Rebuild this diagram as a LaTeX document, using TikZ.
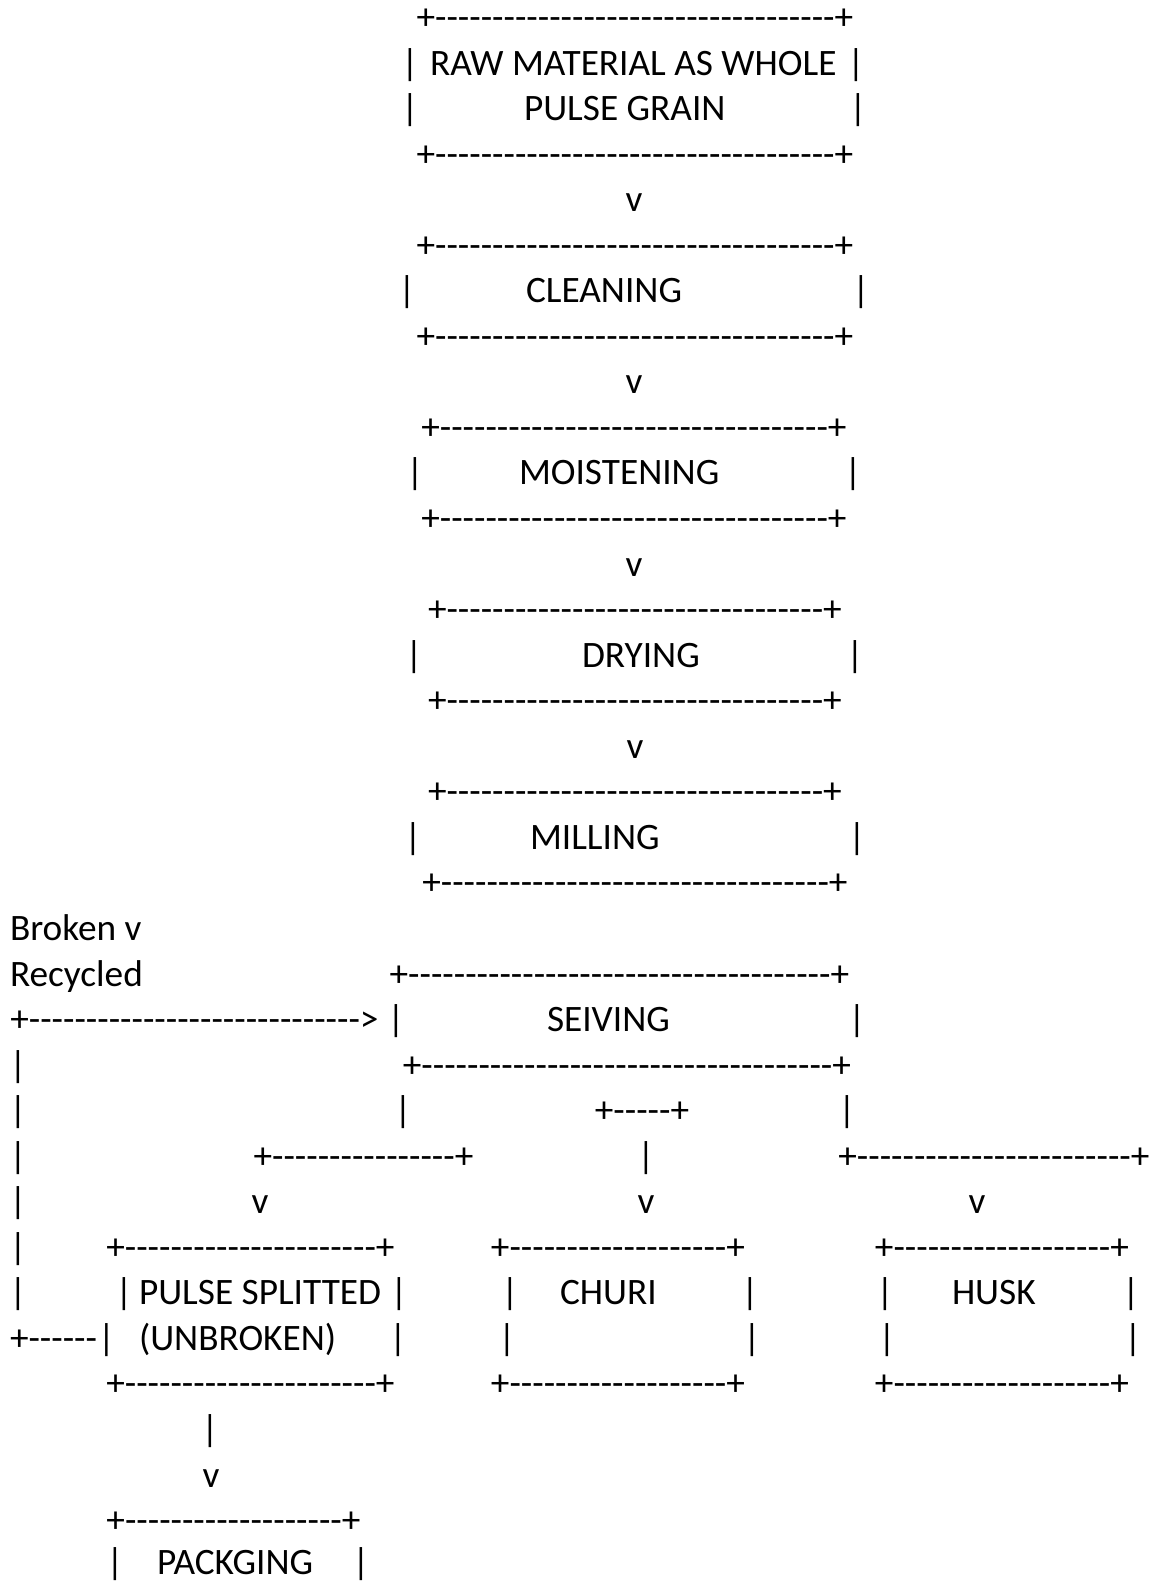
\documentclass[tikz,border=0pt]{standalone}
\usepackage{fontspec}
\newfontfamily\ascfont{Carlito}
\ExplSyntaxOn
\cs_new:Npn \hyph #1 { \prg_replicate:nn {#1} { -\kern0pt } }
\ExplSyntaxOff
\def\ly#1{-(45.55*#1-16.1)}
\tikzset{
  asc/.style={inner sep=0pt, outer sep=0pt, anchor=base west, font=\ascfont\fontsize{37.3}{45}\selectfont},
  ascc/.style={inner sep=0pt, outer sep=0pt, anchor=base, font=\ascfont\fontsize{37.3}{45}\selectfont}
}
\begin{document}
\begin{tikzpicture}[x=1pt,y=1pt]
\path[fill=white,use as bounding box] (0,0) rectangle (1149,-1583);
% RAW MATERIAL box
\node[ascc] (b1t) at (635,{\ly{1}}) {+\hyph{35}+};
\node[ascc] (b1l1) at (410,{\ly{2}}) {|};
\node[asc]  (b1a) at (430,{\ly{2}}) {RAW MATERIAL AS WHOLE};
\node[ascc] (b1r1) at (856,{\ly{2}}) {|};
\node[ascc] (b1l2) at (410,{\ly{3}}) {|};
\node[asc]  (b1b) at (524,{\ly{3}}) {PULSE GRAIN};
\node[ascc] (b1r2) at (858,{\ly{3}}) {|};
\node[ascc] (b1d) at (635,{\ly{4}}) {+\hyph{35}+};
\node[ascc] (v1) at (634,{\ly{5}}) {v};
% CLEANING
\node[ascc] (b2t) at (635,{\ly{6}}) {+\hyph{35}+};
\node[ascc] (b2l) at (407,{\ly{7}}) {|};
\node[asc]  (b2a) at (526,{\ly{7}}) {CLEANING};
\node[ascc] (b2r) at (861,{\ly{7}}) {|};
\node[ascc] (b2d) at (635,{\ly{8}}) {+\hyph{35}+};
\node[ascc] (v2) at (634,{\ly{9}}) {v};
% MOISTENING
\node[ascc] (b3t) at (634,{\ly{10}}) {+\hyph{34}+};
\node[ascc] (b3l) at (415,{\ly{11}}) {|};
\node[asc]  (b3a) at (519,{\ly{11}}) {MOISTENING};
\node[ascc] (b3r) at (853,{\ly{11}}) {|};
\node[ascc] (b3d) at (634,{\ly{12}}) {+\hyph{34}+};
\node[ascc] (v3) at (634,{\ly{13}}) {v};
% DRYING
\node[ascc] (b4t) at (635,{\ly{14}}) {+\hyph{33}+};
\node[ascc] (b4l) at (414,{\ly{15}}) {|};
\node[asc]  (b4a) at (582,{\ly{15}}) {DRYING};
\node[ascc] (b4r) at (855,{\ly{15}}) {|};
\node[ascc] (b4d) at (635,{\ly{16}}) {+\hyph{33}+};
\node[ascc] (v4) at (635,{\ly{17}}) {v};
% MILLING
\node[ascc] (b5t) at (635,{\ly{18}}) {+\hyph{33}+};
\node[ascc] (b5l) at (413,{\ly{19}}) {|};
\node[asc]  (b5a) at (530,{\ly{19}}) {MILLING};
\node[ascc] (b5r) at (857,{\ly{19}}) {|};
\node[ascc] (b5d) at (635,{\ly{20}}) {+\hyph{34}+};
% Broken / Recycled
\node[asc] (brk) at (10,{\ly{21}}) {Broken v};
\node[asc] (rec) at (10,{\ly{22}}) {Recycled};
% SEIVING
\node[ascc] (b6t) at (619.5,{\ly{22}}) {+\hyph{37}+};
\node[ascc] (arr) at (194.5,{\ly{23}}) {+\hyph{29}>};
\node[ascc] (b6l) at (396,{\ly{23}}) {|};
\node[asc]  (b6a) at (547,{\ly{23}}) {SEIVING};
\node[ascc] (b6r) at (857,{\ly{23}}) {|};
\node[ascc] (b6d) at (627,{\ly{24}}) {+\hyph{36}+};
% left return line
\node[ascc] (lr24) at (18,{\ly{24}}) {|};
\node[ascc] (lr25) at (18,{\ly{25}}) {|};
\node[ascc] (lr26) at (18,{\ly{26}}) {|};
\node[ascc] (lr27) at (18,{\ly{27}}) {|};
\node[ascc] (lr28) at (18,{\ly{28}}) {|};
\node[ascc] (lr29) at (18,{\ly{29}}) {|};
\node[asc]  (lr30) at (10,{\ly{30}}) {+\hyph{6}};
% branches
\node[ascc] (s25a) at (403,{\ly{25}}) {|};
\node[ascc] (s25b) at (642,{\ly{25}}) {+\hyph{5}+};
\node[ascc] (s25c) at (847,{\ly{25}}) {|};
\node[ascc] (s26a) at (363.5,{\ly{26}}) {+\hyph{16}+};
\node[ascc] (s26b) at (646,{\ly{26}}) {|};
\node[ascc] (s26c) at (994,{\ly{26}}) {+\hyph{24}+};
\node[ascc] (v27a) at (260,{\ly{27}}) {v};
\node[ascc] (v27b) at (646,{\ly{27}}) {v};
\node[ascc] (v27c) at (977,{\ly{27}}) {v};
% PULSE SPLITTED box
\node[ascc] (p1t) at (250.5,{\ly{28}}) {+\hyph{22}+};
\node[ascc] (p1l1) at (124,{\ly{29}}) {|};
\node[asc]  (p1a) at (139,{\ly{29}}) {PULSE SPLITTED};
\node[ascc] (p1r1) at (399,{\ly{29}}) {|};
\node[ascc] (p1l2) at (106.5,{\ly{30}}) {|};
\node[asc]  (p1b) at (139,{\ly{30}}) {(UNBROKEN)};
\node[ascc] (p1r2) at (398,{\ly{30}}) {|};
\node[ascc] (p1d) at (250.5,{\ly{31}}) {+\hyph{22}+};
% CHURI box
\node[ascc] (c1t) at (618,{\ly{28}}) {+\hyph{19}+};
\node[ascc] (c1l1) at (510,{\ly{29}}) {|};
\node[asc]  (c1a) at (560,{\ly{29}}) {CHURI};
\node[ascc] (c1r1) at (750,{\ly{29}}) {|};
\node[ascc] (c1l2) at (507,{\ly{30}}) {|};
\node[ascc] (c1r2) at (752,{\ly{30}}) {|};
\node[ascc] (c1d) at (618,{\ly{31}}) {+\hyph{19}+};
% HUSK box
\node[ascc] (h1t) at (1002,{\ly{28}}) {+\hyph{19}+};
\node[ascc] (h1l1) at (885,{\ly{29}}) {|};
\node[asc]  (h1a) at (952,{\ly{29}}) {HUSK};
\node[ascc] (h1r1) at (1131,{\ly{29}}) {|};
\node[ascc] (h1l2) at (887,{\ly{30}}) {|};
\node[ascc] (h1r2) at (1133,{\ly{30}}) {|};
\node[ascc] (h1d) at (1002,{\ly{31}}) {+\hyph{19}+};
% to PACKGING
\node[ascc] (k32) at (210,{\ly{32}}) {|};
\node[ascc] (v33) at (211,{\ly{33}}) {v};
\node[ascc] (k1t) at (233.5,{\ly{34}}) {+\hyph{19}+};
\node[ascc] (k1l) at (115,-1574) {|};
\node[asc]  (k1a) at (157,-1574) {PACKGING};
\node[ascc] (k1r) at (361,-1574) {|};
\end{tikzpicture}
\end{document}
